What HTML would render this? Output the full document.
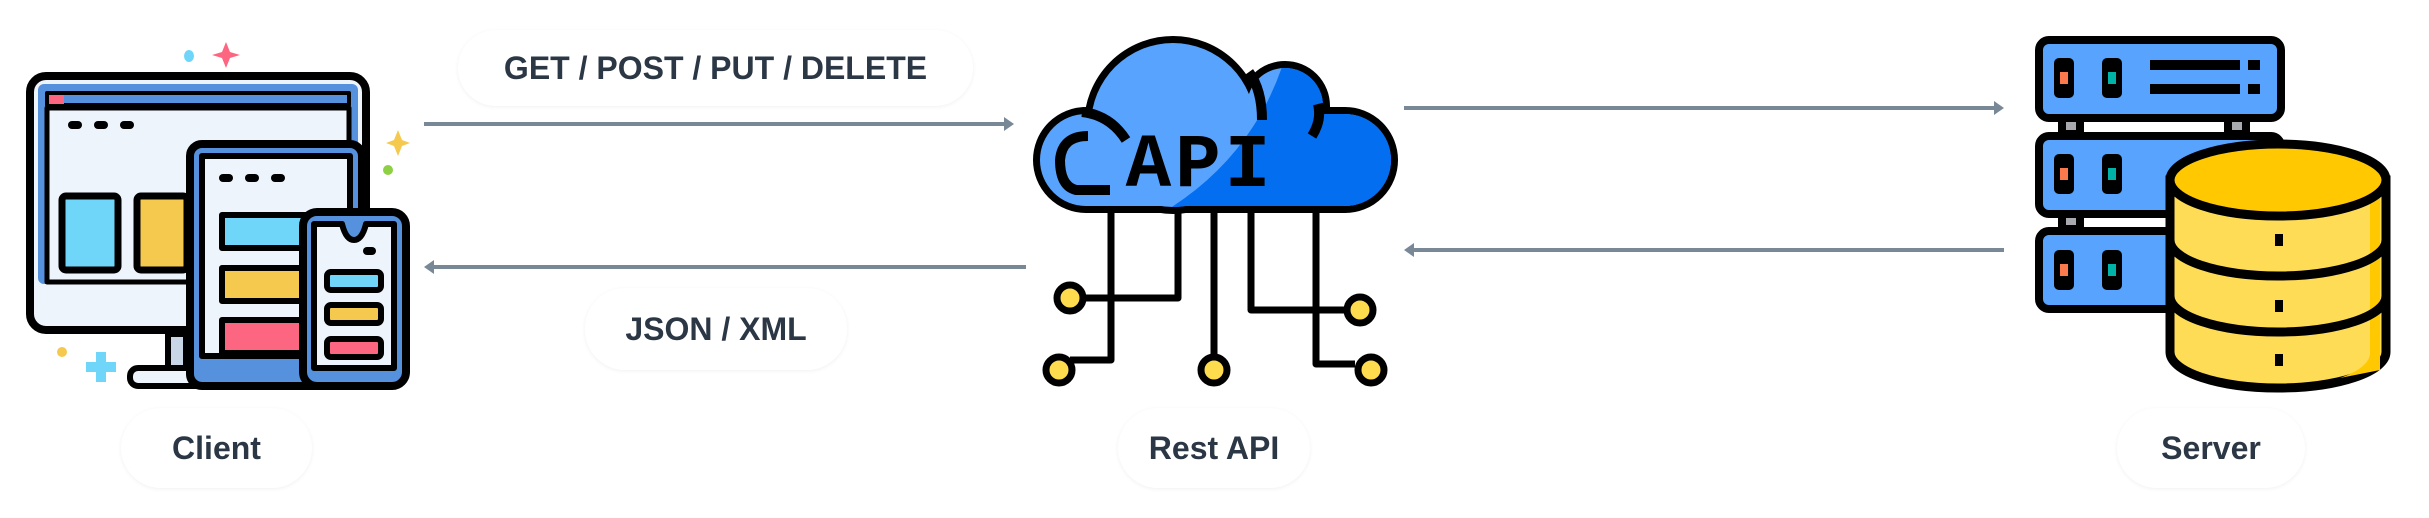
<!DOCTYPE html>
<html><head><meta charset="utf-8"><style>
html,body{margin:0;padding:0;background:#fff;width:2429px;height:518px;overflow:hidden}
.pill{position:absolute;background:#fff;border-radius:40px;box-shadow:0 1px 4px rgba(0,0,0,0.06);display:flex;align-items:center;justify-content:center;font-family:"Liberation Sans",sans-serif;font-weight:bold;color:#2b3745;font-size:32px;}
svg{position:absolute;left:0;top:0}
</style></head><body>
<svg width="2429" height="518" viewBox="0 0 2429 518">
<defs>
<clipPath id="cl"><rect x="1040" y="114" width="351" height="92" rx="46"/><circle cx="1173" cy="125" r="82"/><circle cx="1285" cy="106" r="38"/></clipPath>
</defs>
<g stroke="#788897" stroke-width="4" fill="#788897">
<line x1="424" y1="124" x2="1008" y2="124"/><path d="M1014 124 L1004 117 L1004 131Z" stroke="none"/>
<line x1="430" y1="267" x2="1026" y2="267"/><path d="M424 267 L434 260 L434 274Z" stroke="none"/>
<line x1="1404" y1="108" x2="1997" y2="108"/><path d="M2004 108 L1994 101 L1994 115Z" stroke="none"/>
<line x1="1410" y1="250" x2="2004" y2="250"/><path d="M1404 250 L1414 243 L1414 257Z" stroke="none"/>
</g>
<g stroke="#000" stroke-width="8" stroke-linejoin="round">
<rect x="30" y="76" width="336" height="254" rx="16" fill="#eef4fc"/>
<rect x="38" y="84" width="320" height="200" rx="6" fill="#5591dc" stroke="none"/>
<rect x="47" y="108" width="302" height="174" fill="#eef4fc" stroke-width="5"/>
<rect x="47" y="93" width="302" height="12" fill="#5591dc" stroke-width="4"/>
<rect x="49" y="95" width="15" height="9" fill="#fd6680" stroke="none"/>
<rect x="62" y="196" width="56" height="74" rx="4" fill="#6fd6f9" stroke-width="7"/>
<rect x="137" y="196" width="50" height="74" rx="4" fill="#f5c84e" stroke-width="7"/>
<rect x="168" y="334" width="18" height="34" fill="#c9d6e6" stroke-width="6"/>
<rect x="130" y="368" width="80" height="18" rx="8" fill="#eef4fc" stroke-width="6"/>
<rect x="190" y="144" width="172" height="242" rx="12" fill="#5591dc"/>
<rect x="202" y="156" width="148" height="200" fill="#eef4fc" stroke-width="6"/>
<rect x="222" y="215" width="90" height="33" fill="#6fd6f9" stroke-width="6"/>
<rect x="222" y="268" width="90" height="33" fill="#f5c84e" stroke-width="6"/>
<rect x="222" y="320" width="90" height="33" fill="#fd6680" stroke-width="6"/>
<rect x="303" y="212" width="103" height="174" rx="14" fill="#5591dc"/>
<path d="M314 224 H342 Q346 240 354 240 Q362 240 366 224 H394 V368 H314Z" fill="#eef4fc" stroke-width="6"/>
<rect x="327" y="272" width="54" height="18" rx="4" fill="#6fd6f9" stroke-width="6"/>
<rect x="327" y="305" width="54" height="18" rx="4" fill="#f5c84e" stroke-width="6"/>
<rect x="327" y="339" width="54" height="18" rx="4" fill="#fd6680" stroke-width="6"/>
</g>
<g fill="#000"><rect x="68" y="121" width="14" height="8" rx="4"/><rect x="94" y="121" width="14" height="8" rx="4"/><rect x="120" y="121" width="14" height="8" rx="4"/>
<rect x="219" y="174" width="14" height="8" rx="4"/><rect x="245" y="174" width="14" height="8" rx="4"/><rect x="271" y="174" width="14" height="8" rx="4"/><rect x="363" y="247" width="13" height="8" rx="4"/></g>
<path d="M226 42 L230 52 L240 55 L230 58 L226 68 L222 58 L212 55 L222 52Z" fill="#fd6680"/>
<ellipse cx="189" cy="56" rx="5" ry="6" fill="#6fd6f9"/>
<path d="M398 130 L402 140 L410 143 L402 146 L398 156 L394 146 L386 143 L394 140Z" fill="#f5c84e"/>
<ellipse cx="388" cy="170" rx="5" ry="5" fill="#8dd043"/>
<ellipse cx="62" cy="352" rx="5" ry="5" fill="#f5c84e"/>
<path d="M96 352 h10 v10 h10 v10 h-10 v10 h-10 v-10 h-10 v-10 h10z" fill="#6fd6f9"/>
<g stroke="#000" stroke-width="7" fill="none" stroke-linejoin="round">
<path d="M1111 212 V360 H1070"/>
<path d="M1178 212 V298 H1082"/>
<path d="M1214 212 V356"/>
<path d="M1251 212 V310 H1346"/>
<path d="M1316 212 V364 H1355"/>
</g>
<g stroke="#000" stroke-width="7" fill="#ffdc4e">
<circle cx="1070" cy="298" r="13"/><circle cx="1059" cy="370" r="13"/><circle cx="1214" cy="370" r="13"/><circle cx="1360" cy="310" r="13"/><circle cx="1371" cy="370" r="13"/>
</g>
<g stroke="#000" stroke-width="14">
<rect x="1040" y="114" width="351" height="92" rx="46"/><circle cx="1173" cy="125" r="82"/><circle cx="1285" cy="106" r="38"/>
</g>
<g fill="#58a3fd"><rect x="1040" y="114" width="351" height="92" rx="46"/><circle cx="1173" cy="125" r="82"/><circle cx="1285" cy="106" r="38"/></g>
<path d="M1290 40 L1420 40 L1420 220 L1150 220 Q1260 160 1290 40Z" fill="#036ef0" clip-path="url(#cl)"/>
<g stroke="#000" stroke-width="10" fill="none">
<path d="M1088 136 Q1062 136 1060 160 Q1060 186 1076 190 H1110"/>
<path d="M1082 112 Q1110 115 1126 140"/>
<path d="M1249 72 Q1262 90 1262 120"/>
<path d="M1312 136 Q1322 120 1318 104"/>
</g>
<text x="1200" y="186" font-family="Liberation Mono,monospace" font-weight="bold" font-size="76" text-anchor="middle" fill="#000" letter-spacing="4">API</text>
<g stroke="#000" stroke-width="8">
<rect x="2062" y="118" width="18" height="16" fill="#a9a9b0"/><rect x="2228" y="118" width="18" height="16" fill="#a9a9b0"/>
<rect x="2062" y="213" width="18" height="16" fill="#a9a9b0"/>
<rect x="2039" y="40" width="242" height="78" rx="10" fill="#58a3fd"/>
<rect x="2039" y="136" width="242" height="78" rx="10" fill="#58a3fd"/>
<rect x="2039" y="231" width="242" height="78" rx="10" fill="#58a3fd"/>
</g>
<g fill="#000">
<rect x="2054" y="58" width="20" height="40" rx="5"/><rect x="2102" y="58" width="20" height="40" rx="5"/>
<rect x="2054" y="154" width="20" height="40" rx="5"/><rect x="2102" y="154" width="20" height="40" rx="5"/>
<rect x="2054" y="250" width="20" height="40" rx="5"/><rect x="2102" y="250" width="20" height="40" rx="5"/>
<rect x="2150" y="60" width="90" height="10"/><rect x="2248" y="60" width="12" height="10"/>
<rect x="2150" y="84" width="90" height="10"/><rect x="2248" y="84" width="12" height="10"/>
</g>
<g><rect x="2060" y="72" width="8" height="12" fill="#fa7a4e"/><rect x="2108" y="72" width="8" height="12" fill="#00b3a6"/>
<rect x="2060" y="168" width="8" height="12" fill="#fa7a4e"/><rect x="2108" y="168" width="8" height="12" fill="#00b3a6"/>
<rect x="2060" y="264" width="8" height="12" fill="#fa7a4e"/><rect x="2108" y="264" width="8" height="12" fill="#00b3a6"/></g>
<g stroke="#000" stroke-width="9">
<path d="M2170 180 V352 A108 36 0 0 0 2386 352 V180Z" fill="#ffdc55"/>
<path d="M2370 190 V352 A108 36 0 0 1 2340 378 L2380 370 V190Z" fill="#ffc800" stroke="none"/>
<ellipse cx="2278" cy="180" rx="108" ry="36" fill="#ffc800"/>
<path d="M2170 240 A108 36 0 0 0 2386 240" fill="none"/>
<path d="M2170 296 A108 36 0 0 0 2386 296" fill="none"/>
</g>
<g fill="#000"><rect x="2275" y="234" width="8" height="12"/><rect x="2275" y="300" width="8" height="12"/><rect x="2275" y="354" width="8" height="12"/></g>
</svg>
<div class="pill" style="left:458px;top:30px;width:515px;height:76px;">GET / POST / PUT / DELETE</div>
<div class="pill" style="left:585px;top:288px;width:262px;height:82px;">JSON / XML</div>
<div class="pill" style="left:121px;top:408px;width:191px;height:80px;">Client</div>
<div class="pill" style="left:1118px;top:408px;width:192px;height:80px;">Rest API</div>
<div class="pill" style="left:2117px;top:408px;width:188px;height:80px;">Server</div>
</body></html>
